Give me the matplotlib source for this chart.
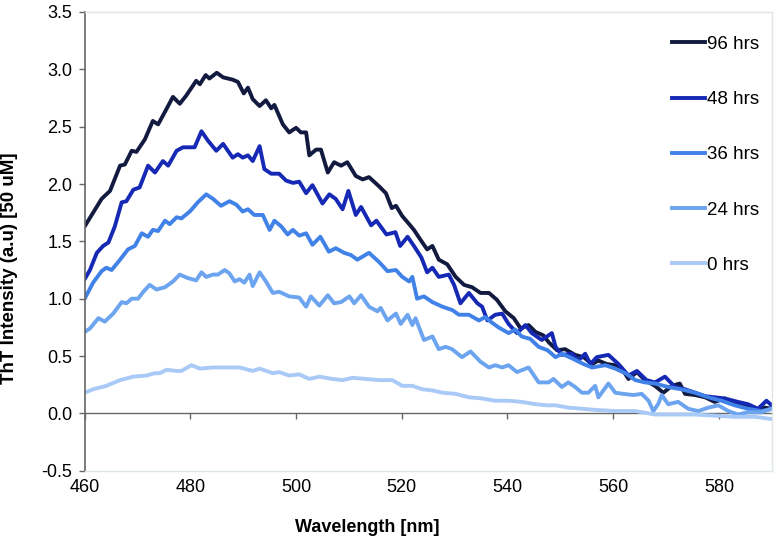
import numpy as np
import matplotlib
matplotlib.use("Agg")
import matplotlib.pyplot as plt
from matplotlib.lines import Line2D

plt.rcParams['font.family'] = ['Liberation Sans', 'DejaVu Sans']

# values: (wavelength nm, intensity)
hrs96 = [(460, 1.63), (461.6, 1.75), (463.2, 1.87), (464.8, 1.94), (466.7, 2.16), (467.6, 2.17),
         (468.9, 2.29), (469.8, 2.28), (471.4, 2.39), (472.9, 2.55), (473.9, 2.52), (475.2, 2.63),
         (476.7, 2.76), (478.0, 2.70), (479.2, 2.77), (481.1, 2.90), (481.8, 2.87), (482.9, 2.95),
         (483.6, 2.92), (485.0, 2.97), (486.2, 2.93), (488.0, 2.91), (489.0, 2.89), (490.1, 2.79),
         (490.9, 2.84), (491.8, 2.74), (493.1, 2.68), (494.3, 2.73), (495.3, 2.66), (495.9, 2.69),
         (497.5, 2.52), (498.7, 2.45), (500.0, 2.49), (500.9, 2.45), (501.9, 2.45), (502.5, 2.25),
         (503.8, 2.30), (504.7, 2.30), (506.0, 2.10), (507.2, 2.19), (508.5, 2.16), (509.7, 2.19),
         (511.3, 2.07), (512.6, 2.04), (513.8, 2.06), (515.7, 1.98), (517.0, 1.92), (518.1, 1.79),
         (518.9, 1.81), (520.1, 1.72), (521.4, 1.65), (522.3, 1.60), (523.6, 1.51), (524.8, 1.43),
         (525.8, 1.46), (527.0, 1.34), (528.6, 1.30), (530.2, 1.19), (531.8, 1.12), (533.3, 1.10),
         (534.9, 1.05), (536.5, 1.05), (538.0, 0.99), (539.6, 0.89), (541.2, 0.83), (542.5, 0.74),
         (544.0, 0.77), (545.3, 0.71), (546.8, 0.68), (547.8, 0.62), (549.4, 0.55), (550.9, 0.56),
         (552.8, 0.51), (554.4, 0.49), (556.0, 0.43), (557.2, 0.46), (558.8, 0.43), (560.4, 0.42),
         (561.9, 0.37), (562.9, 0.30), (564.5, 0.36), (566.0, 0.29), (567.9, 0.24), (569.5, 0.18),
         (571.1, 0.24), (572.6, 0.26), (573.6, 0.17), (575.5, 0.16), (577.4, 0.14), (579.2, 0.10),
         (581.1, 0.13), (583.0, 0.08), (584.9, 0.07), (586.8, 0.02), (588.7, 0.05), (590, 0.04)]

hrs48 = [(460, 1.17), (461.0, 1.25), (462.3, 1.40), (463.5, 1.46), (464.5, 1.49), (465.7, 1.63),
         (467.0, 1.84), (467.9, 1.85), (469.2, 1.95), (470.4, 1.97), (472.0, 2.16), (473.3, 2.10),
         (474.8, 2.20), (475.8, 2.16), (477.4, 2.29), (478.6, 2.32), (480.8, 2.32), (482.1, 2.46),
         (483.3, 2.38), (484.9, 2.29), (486.2, 2.35), (488.0, 2.23), (489.0, 2.26), (489.9, 2.23),
         (490.9, 2.25), (491.8, 2.20), (493.1, 2.33), (494.0, 2.13), (495.3, 2.09), (496.8, 2.09),
         (498.1, 2.03), (499.4, 2.01), (500.6, 2.02), (501.9, 1.92), (503.1, 1.99), (505.0, 1.83),
         (506.3, 1.91), (507.5, 1.87), (508.8, 1.78), (509.9, 1.94), (511.3, 1.73), (512.3, 1.80),
         (514.2, 1.64), (515.2, 1.68), (517.1, 1.56), (518.8, 1.58), (519.7, 1.46), (521.1, 1.54),
         (522.3, 1.46), (523.7, 1.36), (524.8, 1.23), (525.8, 1.27), (527.0, 1.19), (528.9, 1.21),
         (529.9, 1.12), (531.1, 0.96), (532.7, 1.05), (534.3, 0.96), (535.2, 0.93), (536.2, 0.81),
         (537.7, 0.86), (539.0, 0.87), (540.2, 0.78), (541.8, 0.70), (543.4, 0.77), (544.6, 0.70),
         (546.5, 0.64), (548.4, 0.70), (549.1, 0.58), (550.3, 0.51), (552.2, 0.52), (553.4, 0.46),
         (554.7, 0.52), (555.7, 0.43), (556.9, 0.49), (559.1, 0.51), (561.0, 0.43), (562.9, 0.33),
         (564.5, 0.37), (566.3, 0.29), (567.9, 0.27), (569.8, 0.32), (571.7, 0.23), (573.6, 0.21),
         (575.5, 0.18), (577.4, 0.15), (579.2, 0.14), (581.1, 0.13), (583.6, 0.10), (585.5, 0.08),
         (587.4, 0.04), (589.0, 0.11), (590, 0.07)]

hrs36 = [(460, 1.00), (461.6, 1.14), (463.2, 1.24), (464.1, 1.27), (465.1, 1.25), (466.7, 1.34),
         (468.2, 1.43), (469.5, 1.46), (470.8, 1.57), (472.0, 1.54), (472.9, 1.60), (473.9, 1.59),
         (475.2, 1.68), (476.1, 1.65), (477.4, 1.71), (478.3, 1.70), (479.9, 1.76), (481.4, 1.84),
         (483.0, 1.91), (484.3, 1.87), (485.8, 1.81), (487.4, 1.85), (488.7, 1.82), (489.9, 1.76),
         (490.9, 1.78), (492.1, 1.73), (493.7, 1.73), (495.0, 1.60), (495.9, 1.68), (497.2, 1.63),
         (498.4, 1.56), (499.4, 1.60), (500.6, 1.55), (501.9, 1.57), (503.1, 1.47), (504.6, 1.54),
         (506.2, 1.41), (507.5, 1.44), (509.1, 1.40), (510.4, 1.38), (511.6, 1.34), (513.8, 1.40),
         (515.7, 1.32), (517.3, 1.24), (518.9, 1.25), (520.1, 1.19), (521.4, 1.15), (522.0, 1.19),
         (522.9, 1.00), (524.2, 1.02), (525.8, 0.97), (527.7, 0.93), (529.6, 0.90), (530.8, 0.86),
         (532.7, 0.86), (534.6, 0.81), (535.8, 0.84), (536.8, 0.80), (538.3, 0.75), (540.2, 0.70),
         (541.5, 0.73), (542.7, 0.67), (544.3, 0.65), (545.9, 0.58), (547.6, 0.55), (549.1, 0.49),
         (550.3, 0.52), (552.2, 0.48), (554.4, 0.43), (556.0, 0.40), (558.5, 0.42), (560.4, 0.39),
         (562.3, 0.35), (564.2, 0.29), (566.0, 0.27), (567.9, 0.26), (570.4, 0.23), (572.9, 0.21),
         (575.5, 0.18), (578.0, 0.14), (580.5, 0.11), (583.0, 0.07), (585.5, 0.04), (588.0, 0.02),
         (590, 0.04)]

hrs24 = [(460, 0.71), (461.0, 0.74), (462.6, 0.83), (463.8, 0.80), (465.4, 0.87), (467.0, 0.97),
         (467.9, 0.96), (468.9, 1.00), (470.1, 1.00), (471.1, 1.06), (472.3, 1.12), (473.6, 1.08),
         (475.2, 1.10), (476.7, 1.15), (478.0, 1.21), (479.5, 1.18), (481.1, 1.16), (482.1, 1.23),
         (483.0, 1.19), (484.3, 1.21), (485.2, 1.21), (486.5, 1.25), (487.4, 1.22), (488.4, 1.15),
         (489.3, 1.17), (490.2, 1.14), (491.2, 1.21), (491.8, 1.11), (493.1, 1.23), (494.3, 1.15),
         (495.6, 1.05), (496.8, 1.06), (498.7, 1.02), (500.6, 1.01), (501.9, 0.93), (502.8, 1.02),
         (504.4, 0.94), (506.0, 1.03), (507.2, 0.96), (508.5, 0.97), (510.1, 1.02), (511.0, 0.96),
         (512.3, 1.03), (513.8, 0.93), (515.4, 0.89), (516.0, 0.92), (517.3, 0.81), (518.9, 0.87),
         (519.8, 0.78), (521.1, 0.86), (522.0, 0.77), (522.6, 0.83), (524.2, 0.64), (525.8, 0.67),
         (527.0, 0.56), (528.3, 0.58), (529.5, 0.56), (531.4, 0.49), (533.0, 0.54), (534.9, 0.45),
         (536.5, 0.40), (537.7, 0.42), (539.0, 0.40), (540.2, 0.42), (541.8, 0.36), (544.0, 0.40),
         (545.9, 0.27), (547.8, 0.27), (548.7, 0.30), (550.3, 0.23), (551.5, 0.27), (552.8, 0.23),
         (554.1, 0.18), (555.3, 0.18), (556.6, 0.24), (557.2, 0.14), (559.1, 0.26), (560.4, 0.18),
         (561.9, 0.17), (563.8, 0.16), (565.4, 0.17), (566.7, 0.11), (567.6, 0.02), (568.5, 0.08),
         (569.2, 0.16), (570.4, 0.08), (572.3, 0.10), (574.2, 0.04), (576.1, 0.02), (578.0, 0.05),
         (579.9, 0.07), (581.8, 0.02), (583.6, -0.01), (585.5, 0.01), (588.0, 0.01), (590, 0.04)]

hrs0 = [(460, 0.18), (461.6, 0.21), (464.1, 0.24), (466.7, 0.29), (469.2, 0.32), (471.7, 0.33),
        (473.3, 0.35), (474.2, 0.35), (475.5, 0.38), (477.4, 0.37), (478.3, 0.37), (480.2, 0.42),
        (481.8, 0.39), (484.3, 0.40), (486.8, 0.40), (489.3, 0.40), (491.8, 0.37), (493.1, 0.39),
        (495.6, 0.35), (496.8, 0.36), (498.7, 0.33), (500.6, 0.34), (502.5, 0.30), (504.4, 0.32),
        (506.9, 0.30), (508.8, 0.29), (510.7, 0.31), (513.2, 0.30), (515.7, 0.29), (518.2, 0.29),
        (520.1, 0.24), (522.0, 0.24), (523.9, 0.21), (525.8, 0.20), (527.7, 0.18), (530.2, 0.17),
        (532.7, 0.14), (535.2, 0.13), (537.7, 0.11), (540.2, 0.11), (542.7, 0.10), (545.3, 0.08),
        (547.5, 0.07), (549.1, 0.07), (551.5, 0.05), (554.1, 0.04), (556.6, 0.03), (560.4, 0.02),
        (564.2, 0.02), (567.9, -0.01), (571.7, -0.01), (575.5, -0.01), (579.2, -0.02), (583.0, -0.03),
        (586.8, -0.03), (590, -0.05)]

labels = ['96 hrs', '48 hrs', '36 hrs', '24 hrs', '0 hrs']
series = [hrs96, hrs48, hrs36, hrs24, hrs0]
colors = ['#121a40', '#1529b5', '#4182e8', '#6ca4ef', '#a9c9f6']

fig = plt.figure(figsize=(7.76, 5.38), dpi=100)
ax = fig.add_axes([0.1091, 0.1251, 0.8854, 0.8526])

for data, c, lab in zip(series, colors, labels):
    d = np.array(data)
    ax.plot(d[:, 0], d[:, 1], color=c, lw=2.8, label=lab,
            solid_joinstyle='round', solid_capstyle='round')

ax.set_xlim(460, 590)
ax.set_ylim(-0.5, 3.5)
ax.set_yticks(np.arange(-0.5, 3.51, 0.5))
ax.set_yticklabels([f'{v:.1f}' for v in np.arange(-0.5, 3.51, 0.5)])
ax.set_xticks(np.arange(460, 581, 20))

for s in ['top', 'right', 'bottom']:
    ax.spines[s].set_color('#dfe6e6')
    ax.spines[s].set_linewidth(1.0)
ax.spines['left'].set_color('#666666')
ax.spines['left'].set_linewidth(1.2)

ax.tick_params(axis='y', direction='out', length=4, width=1.0, color='#666666',
               labelsize=13, pad=5)
ax.tick_params(axis='x', length=0, labelsize=13, pad=6)

# zero line carries the x tick marks
zero = ax.secondary_xaxis(0.125)
zero.set_xticks(np.arange(460, 581, 20))
zero.tick_params(direction='out', length=4, width=1.0, color='#666666', labelbottom=False)
zero.spines['bottom'].set_color('#666666')
zero.spines['bottom'].set_linewidth(1.0)

fig.text(367.5 / 776, 1 - 528 / 538, 'Wavelength [nm]', ha='center', va='center',
         fontsize=13, fontweight='bold')
fig.text(10 / 776, 1 - 268 / 538, 'ThT Intensity (a.u) [50 uM]', ha='center', va='center',
         rotation=90, fontsize=13.5, fontweight='bold')

handles = [Line2D([], [], color=c, lw=2.8) for c in colors]
ax.legend(handles, labels, loc='upper left', bbox_to_anchor=(0.855, 0.948), frameon=False,
          handlelength=1.75, handletextpad=0.1, labelspacing=2.03, borderpad=0,
          borderaxespad=0, fontsize=13.5)

fig.savefig('out.png', dpi=100)
